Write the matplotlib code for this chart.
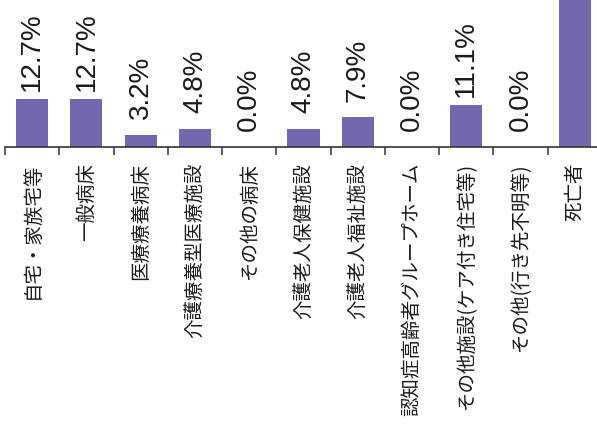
import matplotlib
matplotlib.use("Agg")
import matplotlib.pyplot as plt
import numpy as np

categories = ["自宅・家族宅等", "一般病床", "医療療養病床", "介護療養型医療施設", "その他の病床",
              "介護老人保健施設", "介護老人福祉施設", "認知症高齢者グループホーム",
              "その他施設(ケア付き住宅等)", "その他(行き先不明等)", "死亡者"]
values = [12.7, 12.7, 3.2, 4.8, 0.0, 4.8, 7.9, 0.0, 11.1, 0.0, 42.8]
value_labels = ["12.7%", "12.7%", "3.2%", "4.8%", "0.0%", "4.8%", "7.9%", "0.0%", "11.1%", "0.0%", "42.8%"]

W, H = 597, 439
fig = plt.figure(figsize=(W / 100, H / 100), dpi=100)
base_y = 147.7
ax = fig.add_axes([5 / W, 1 - base_y / H, 597 / W, base_y / H])

x = np.arange(len(categories))
bar_color = "#7467ae"
ax.bar(x, values, width=0.59, color=bar_color, edgecolor="none", zorder=2)

ymax = 39.3
ax.set_xlim(-0.5, len(categories) - 0.5)
ax.set_ylim(0, ymax)

for s in ["top", "right", "left"]:
    ax.spines[s].set_visible(False)
ax.spines["bottom"].set_color("#333333")
ax.spines["bottom"].set_linewidth(1.2)
ax.set_yticks([])

ax.set_xticks(x)
ax.set_xticklabels(categories, rotation=90, fontsize=14.0,
                   family=["Noto Sans CJK JP", "DejaVu Sans"], color="#1a1a1a")
ax.tick_params(axis="x", which="major", length=0, pad=11)
ax.set_xticks(np.arange(len(categories) + 1) - 0.5, minor=True)
ax.tick_params(axis="x", which="minor", length=5.5, width=1.1, color="#333333", direction="out")

# The label of the bar that runs past the top edge lies outside the cropped view
for xi, v, lab in zip(x, values, value_labels):
    if v > ymax:
        continue
    ax.annotate(lab, (xi, v), xytext=(0, 34.5), textcoords="offset points",
                rotation=90, ha="center", va="center", fontsize=20,
                family=["Liberation Sans", "DejaVu Sans"], color="#1a1a1a",
                annotation_clip=False)

fig.savefig("out.png", dpi=100, facecolor="white")
